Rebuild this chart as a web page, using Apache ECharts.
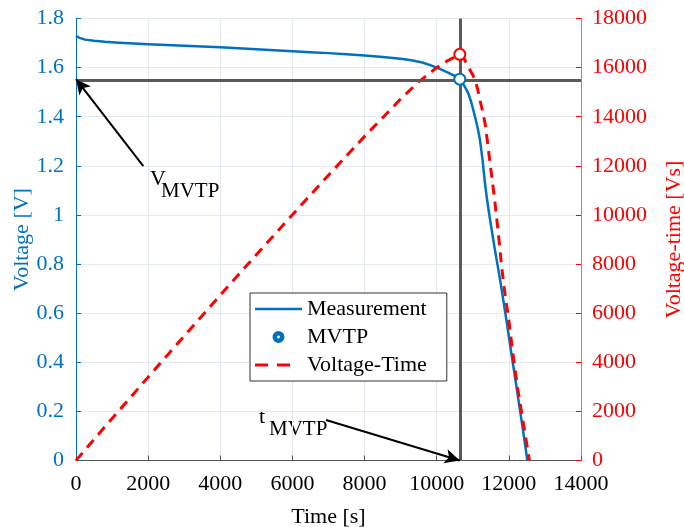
<!DOCTYPE html>
<html><head><meta charset="utf-8">
<script src="https://cdn.jsdelivr.net/npm/echarts@6/dist/echarts.min.js"></script>
<style>html,body{margin:0;padding:0;background:#fff}#c{width:684px;height:527px}</style>
</head><body><div id="c"></div>
<script>
const timeMeas = [0,100,250,500,800,1200,1600,2000,2500,3000,3500,4000,4500,5000,5500,6000,6500,7000,7500,8000,8500,9000,9300,9600,9900,10100,10300,10500,10640,
  10700,10780,10876,10960,11062,11130,11200,11270,11330,11385,11450,11524,11600,11663,11750,11846,11950,12050,12150,12250,12350,12440,12512];
const voltMeas = [1.728,1.721,1.714,1.709,1.705,1.701,1.698,1.695,1.692,1.689,1.686,1.683,1.679,1.675,1.671,1.667,1.663,1.659,1.654,1.649,1.643,1.636,1.630,1.621,1.606,1.594,1.581,1.566,1.553,
  1.541,1.522,1.495,1.458,1.400,1.358,1.305,1.225,1.140,1.074,1.008,0.939,0.870,0.816,0.742,0.653,0.555,0.455,0.360,0.262,0.165,0.075,0.000];
const timeVT = [0,500,1000,2000,3000,4000,5000,6000,7000,8000,8500,9000,9500,10000,10300,10640,
  10750,10850,10923,11000,11062,11130,11200,11270,11340,11410,11478,11550,11616,11690,11755,11800,11900,11986,12100,12220,12400,12570];
const valVT = [0,860,1710,3395,5070,6735,8380,10010,11620,13200,13960,14720,15420,16000,16280,16541,
  16400,16100,15900,15700,15495,15150,14680,14230,13730,12950,12115,11300,10486,9500,8572,7892,6700,5856,4500,3156,1530,0];
const mvtpTime = 10640;
const mvtpVolt = 1.553;
const mvtpVT = 16541;
const xTicks = {min:0,max:14000,interval:2000};
const yLeft = {min:0,max:1.8,interval:0.2};
const yRight = {min:0,max:18000,interval:2000};
const vArrowStart = [1866,1.199];
const tArrowStart = [6931,0.165];

const blue='#0072BD', red='#FF0000', font='"Liberation Serif","Times New Roman",serif';
const FS=22;
const plain = v => String(v);
const ring = 'path://M5,0A5,5 0 1,1 5,10A5,5 0 1,1 5,0Z M5,2.6A2.4,2.4 0 1,0 5,7.4A2.4,2.4 0 1,0 5,2.6Z';
const chart = echarts.init(document.getElementById('c'));
chart.setOption({
  animation:false,
  grid:{left:76,right:103,top:18.5,bottom:66.5,containLabel:false,outerBoundsMode:'none'},
  legend:{
    data:[
      {name:'Measurement',icon:'path://M0,0H47V2.6H0Z'},
      {name:'MVTP',icon:ring},
      {name:'Voltage-Time',icon:'path://M0,0H13V3H0Z M22,0H35V3H22Z M47,1.5L47,1.5'}
    ],
    orient:'vertical', left:250, top:293,
    backgroundColor:'#fff', borderColor:'#333', borderWidth:1,
    padding:[5,20,5,5], itemWidth:47, itemHeight:10, itemGap:6,
    textStyle:{fontFamily:font,fontSize:FS,color:'#000'}
  },
  xAxis:{type:'value',min:xTicks.min,max:xTicks.max,interval:xTicks.interval,
    name:'Time [s]',nameLocation:'middle',nameGap:46,
    nameTextStyle:{fontFamily:font,fontSize:FS,color:'#000'},
    axisLine:{lineStyle:{color:'#555',width:1}},
    axisTick:{inside:true,length:5,lineStyle:{color:'#555'}},
    axisLabel:{fontFamily:font,fontSize:FS,color:'#000',margin:13,formatter:plain},
    splitLine:{show:true,lineStyle:{color:'#e3e9f0',width:1}}},
  yAxis:[
    {type:'value',min:yLeft.min,max:yLeft.max,interval:yLeft.interval,
      name:'Voltage [V]',nameLocation:'middle',nameGap:43,nameMoveOverlap:false,
      nameTextStyle:{fontFamily:font,fontSize:FS,color:blue},
      axisLine:{show:true,lineStyle:{color:blue,width:1}},
      axisTick:{show:true,inside:true,length:5,lineStyle:{color:blue}},
      axisLabel:{fontFamily:font,fontSize:FS,color:blue,margin:12},
      splitLine:{show:true,lineStyle:{color:'#e3e9f0',width:1}}},
    {type:'value',min:yRight.min,max:yRight.max,interval:yRight.interval,position:'right',
      name:'Voltage-time [Vs]',nameLocation:'middle',nameGap:82,nameRotate:90,
      nameTextStyle:{fontFamily:font,fontSize:FS,color:red},
      axisLine:{show:true,lineStyle:{color:'#ff6060',width:1}},
      axisTick:{show:true,inside:true,length:5,lineStyle:{color:red}},
      axisLabel:{fontFamily:font,fontSize:FS,color:red,margin:11,formatter:plain},
      splitLine:{show:false}}
  ],
  series:[
    {name:'cross',type:'line',data:[],silent:true,z:1,
      markLine:{silent:true,symbol:['none','none'],label:{show:false},
        lineStyle:{color:'#5a5a5a',width:3,type:'solid'},
        data:[{xAxis:mvtpTime},{yAxis:mvtpVolt}]}},
    {name:'Measurement',type:'line',showSymbol:false,symbol:'none',z:3,
      data:timeMeas.map((t,i)=>[t,voltMeas[i]]),
      lineStyle:{color:blue,width:2.5,join:'round'},itemStyle:{color:blue}},
    {name:'Voltage-Time',type:'line',yAxisIndex:1,showSymbol:false,symbol:'none',z:3,
      data:timeVT.map((t,i)=>[t,valVT[i]]),
      lineStyle:{color:red,width:3,type:[10,7]},itemStyle:{color:red}},
    {name:'MVTP',type:'scatter',z:5,symbol:'emptyCircle',symbolSize:11,
      data:[[mvtpTime,mvtpVolt]],itemStyle:{color:blue,borderColor:blue,borderWidth:3,opacity:1}},
    {name:'MVTP-VT',type:'scatter',yAxisIndex:1,z:5,symbol:'emptyCircle',symbolSize:11,
      data:[[mvtpTime,mvtpVT]],itemStyle:{color:red,borderColor:red,borderWidth:3,opacity:1}},
    {name:'arrows',type:'line',data:[],silent:true,z:6,
      markLine:{silent:true,symbol:['none','arrow'],symbolSize:[11,15],label:{show:false},
        lineStyle:{color:'#000',width:2,type:'solid'},
        data:[
          [{coord:vArrowStart},{coord:[0,mvtpVolt]}],
          [{coord:tArrowStart},{coord:[mvtpTime,0]}]
        ]}}
  ],
  graphic:[
    {type:'text',left:150,top:168,style:{text:'V',font:'22px '+font,fill:'#000'}},
    {type:'text',left:161,top:181,style:{text:'MVTP',font:'21px '+font,fill:'#000'}},
    {type:'text',left:259,top:406,style:{text:'t',font:'22px '+font,fill:'#000'}},
    {type:'text',left:269,top:419,style:{text:'MVTP',font:'21px '+font,fill:'#000'}}
  ]
});
</script></body></html>
